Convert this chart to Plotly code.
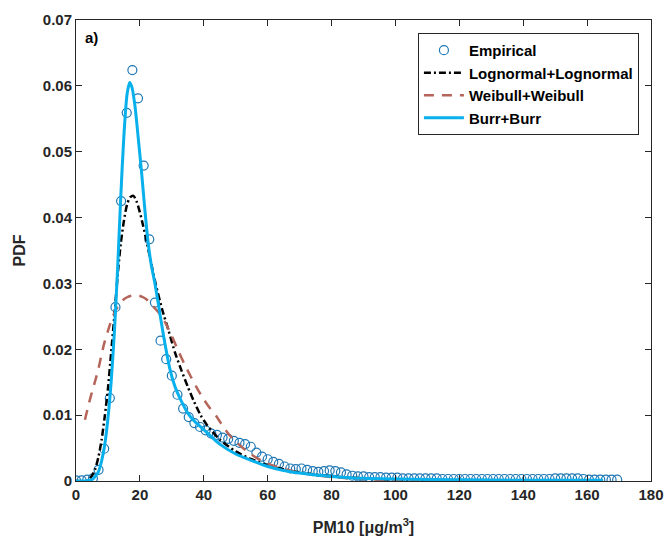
import plotly.graph_objects as go

# ---------------- data ----------------
emp_x = [0, 1.76, 3.53, 5.29, 7.06, 8.82, 10.59, 12.35, 14.12, 15.88, 17.65, 19.41, 21.18, 22.94,
         24.71, 26.47, 28.24, 30.0, 31.76, 33.53, 35.29, 37.06, 38.82, 40.59, 42.35, 44.12, 45.88,
         47.65, 49.41, 51.18, 52.94, 54.71, 56.47, 58.24, 60.0, 61.76, 63.53, 65.29, 67.06, 68.82,
         70.59, 72.35, 74.12, 75.88, 77.65, 79.41, 81.18, 82.94, 84.71, 86.47, 88.24, 90.0, 91.76,
         93.53, 95.29, 97.06, 98.82, 100.59, 102.35, 104.12, 105.88, 107.65, 109.41, 111.18, 112.94,
         114.71, 116.47, 118.24, 120.0, 121.76, 123.53, 125.29, 127.06, 128.82, 130.59, 132.35,
         134.12, 135.88, 137.65, 139.41, 141.18, 142.94, 144.71, 146.47, 148.24, 150.0, 151.76,
         153.53, 155.29, 157.06, 158.82, 160.59, 162.35, 164.12, 165.88, 167.65, 169.41]
emp_y = [0.0001, 0.0001, 0.0002, 0.0004, 0.0017, 0.0049, 0.0126, 0.0264, 0.0425, 0.0559, 0.0624,
         0.0581, 0.0479, 0.0367, 0.0271, 0.0213, 0.0185, 0.0160, 0.0131, 0.0110, 0.0097, 0.0088,
         0.0082, 0.0077, 0.0072, 0.0070, 0.0066, 0.0064, 0.0061, 0.0058, 0.0056, 0.0052, 0.0043,
         0.0037, 0.0033, 0.0029, 0.0026, 0.0022, 0.0019, 0.0018, 0.0019, 0.0017, 0.0015, 0.0014,
         0.0015, 0.0016, 0.0015, 0.0013, 0.0010, 0.0008, 0.0007, 0.0007, 0.0006, 0.0006, 0.0006,
         0.0005, 0.0005, 0.0005, 0.0004, 0.0004, 0.0004, 0.0004, 0.0004, 0.0004, 0.0004, 0.0003,
         0.0003, 0.0003, 0.0003, 0.0003, 0.0003, 0.0003, 0.0003, 0.0003, 0.0003, 0.0003, 0.0003,
         0.0003, 0.0003, 0.0003, 0.0003, 0.0003, 0.0003, 0.0003, 0.0003, 0.0004, 0.0004, 0.0004,
         0.0004, 0.0004, 0.0003, 0.0002, 0.0002, 0.0002, 0.0002, 0.0002, 0.0002]

logn_x = [0, 3.5, 5, 6, 7, 8, 9, 10, 11, 12, 13, 14, 15, 16, 17, 18, 19, 20, 21, 22, 23, 24, 25,
          27, 29, 31, 33, 35, 37, 39, 41, 45, 50, 55, 60, 65, 70, 80, 90, 100, 120, 165]
logn_y = [0, 0, 0.0008, 0.0018, 0.0036, 0.0062, 0.0098, 0.0140, 0.0195, 0.0250, 0.0310, 0.0360,
          0.0395, 0.0420, 0.0431, 0.0433, 0.0424, 0.0408, 0.0388, 0.0366, 0.0343, 0.0320, 0.0298,
          0.0260, 0.0228, 0.0195, 0.0168, 0.0143, 0.0120, 0.0100, 0.0085, 0.0063, 0.0045, 0.0033,
          0.0024, 0.0018, 0.0013, 0.0007, 0.0004, 0.0002, 0.0001, 0.0]

weib_x = [2.8, 4, 5, 6, 7, 8, 9, 10, 11, 12, 13, 14, 15, 16, 17, 18, 19, 20, 21, 22, 23, 24, 26,
          28, 30, 32, 34, 36, 38, 40, 42, 44, 46, 48, 50, 52, 55, 58, 62, 66, 72, 80, 90, 100,
          120, 165]
weib_y = [0.0093, 0.0117, 0.0135, 0.0152, 0.0170, 0.0192, 0.0212, 0.0228, 0.0243, 0.0255, 0.0264,
          0.0271, 0.0276, 0.0279, 0.0281, 0.0282, 0.0282, 0.0281, 0.0279, 0.0276, 0.0271, 0.0266,
          0.0255, 0.0240, 0.0220, 0.0198, 0.0177, 0.0158, 0.0140, 0.0124, 0.0110, 0.0098, 0.0083,
          0.0070, 0.0060, 0.0051, 0.0040, 0.0031, 0.0023, 0.0017, 0.0011, 0.0006, 0.0003, 0.0001,
          0.0, 0.0]

burr_x = [0, 3, 5, 6, 7, 8, 9, 10, 11, 12, 13, 14, 15, 16, 16.8, 17.5, 18.5, 19.5, 20.5, 21.5,
          22.5, 23.5, 24.7, 26, 27.5, 29.4, 31, 32.6, 35, 37, 40, 45, 50, 55, 60, 65, 70, 75, 80,
          90, 100, 120, 140, 165]
burr_y = [0, 0, 0.0002, 0.0007, 0.0014, 0.0030, 0.0055, 0.0095, 0.0150, 0.0225, 0.0320, 0.0430,
          0.0525, 0.0588, 0.0605, 0.0598, 0.0568, 0.0520, 0.0470, 0.0415, 0.0365, 0.0330, 0.0300,
          0.0262, 0.0218, 0.0170, 0.0143, 0.0125, 0.0103, 0.0091, 0.0078, 0.0056, 0.0041, 0.0031,
          0.0022, 0.0016, 0.0012, 0.0009, 0.0007, 0.0004, 0.0003, 0.0002, 0.0001, 0.0001]

x_ticks = [0, 20, 40, 60, 80, 100, 120, 140, 160, 180]
y_ticks = [0, 0.01, 0.02, 0.03, 0.04, 0.05, 0.06, 0.07]
y_ticklabels = ["0", "0.01", "0.02", "0.03", "0.04", "0.05", "0.06", "0.07"]

# ---------------- figure ----------------
FONT = "Arial, Liberation Sans, sans-serif"
AX = "#262626"

fig = go.Figure()
fig.add_trace(go.Scatter(
    x=emp_x, y=emp_y, mode="markers", name="Empirical",
    marker=dict(symbol="circle-open", size=9, color="#1f77b4", line=dict(width=1.2, color="#2a7ab8"))))
fig.add_trace(go.Scatter(
    x=logn_x, y=logn_y, mode="lines", name="Lognormal+Lognormal", line_shape="spline",
    line=dict(color="black", width=2.5, dash="7px,3px,2px,3px", smoothing=0.7)))
fig.add_trace(go.Scatter(
    x=weib_x, y=weib_y, mode="lines", name="Weibull+Weibull", line_shape="spline",
    line=dict(color="#b5655a", width=2.5, dash="10px,8px", smoothing=0.7)))
fig.add_trace(go.Scatter(
    x=burr_x, y=burr_y, mode="lines", name="Burr+Burr", line_shape="spline",
    line=dict(color="#08b0ec", width=3, smoothing=0.7)))

fig.update_layout(
    width=667, height=537,
    margin=dict(l=76, r=16, t=20, b=56, autoexpand=False),
    paper_bgcolor="white", plot_bgcolor="white",
    font=dict(family=FONT, size=15, color=AX),
    showlegend=True,
    legend=dict(
        x=0.979, y=0.972, xanchor="right", yanchor="top",
        bgcolor="white", bordercolor=AX, borderwidth=1,
        font=dict(family=FONT, size=15, color="black", weight="bold"),
        tracegroupgap=0, itemwidth=40,
    ),
    annotations=[dict(
        text="<b>a)</b>", x=0.012, y=0.985, xref="paper", yref="paper",
        xanchor="left", yanchor="top", showarrow=False,
        font=dict(family=FONT, size=15, color="black"))],
)

fig.update_xaxes(
    range=[0, 180], tickvals=x_ticks, ticktext=[f"<b>{v}</b>" for v in x_ticks],
    ticks="inside", ticklen=6, tickcolor=AX, tickwidth=1,
    showline=True, linecolor=AX, linewidth=1, mirror="ticks",
    showgrid=False, zeroline=False, automargin=False,
    tickfont=dict(family=FONT, size=15, color=AX),
    title=dict(text="<b>PM10 [μg/m<sup>3</sup>]</b>", font=dict(family=FONT, size=16, color=AX),
               standoff=19),
)
fig.update_yaxes(
    range=[0, 0.07], tickvals=y_ticks, ticktext=[f"<b>{t}</b>" for t in y_ticklabels],
    ticks="inside", ticklen=6, tickcolor=AX, tickwidth=1,
    showline=True, linecolor=AX, linewidth=1, mirror="ticks",
    showgrid=False, zeroline=False, automargin=False,
    tickfont=dict(family=FONT, size=15, color=AX),
    title=dict(text="<b>PDF</b>", font=dict(family=FONT, size=16, color=AX), standoff=13),
)

fig.write_html("out.html")
